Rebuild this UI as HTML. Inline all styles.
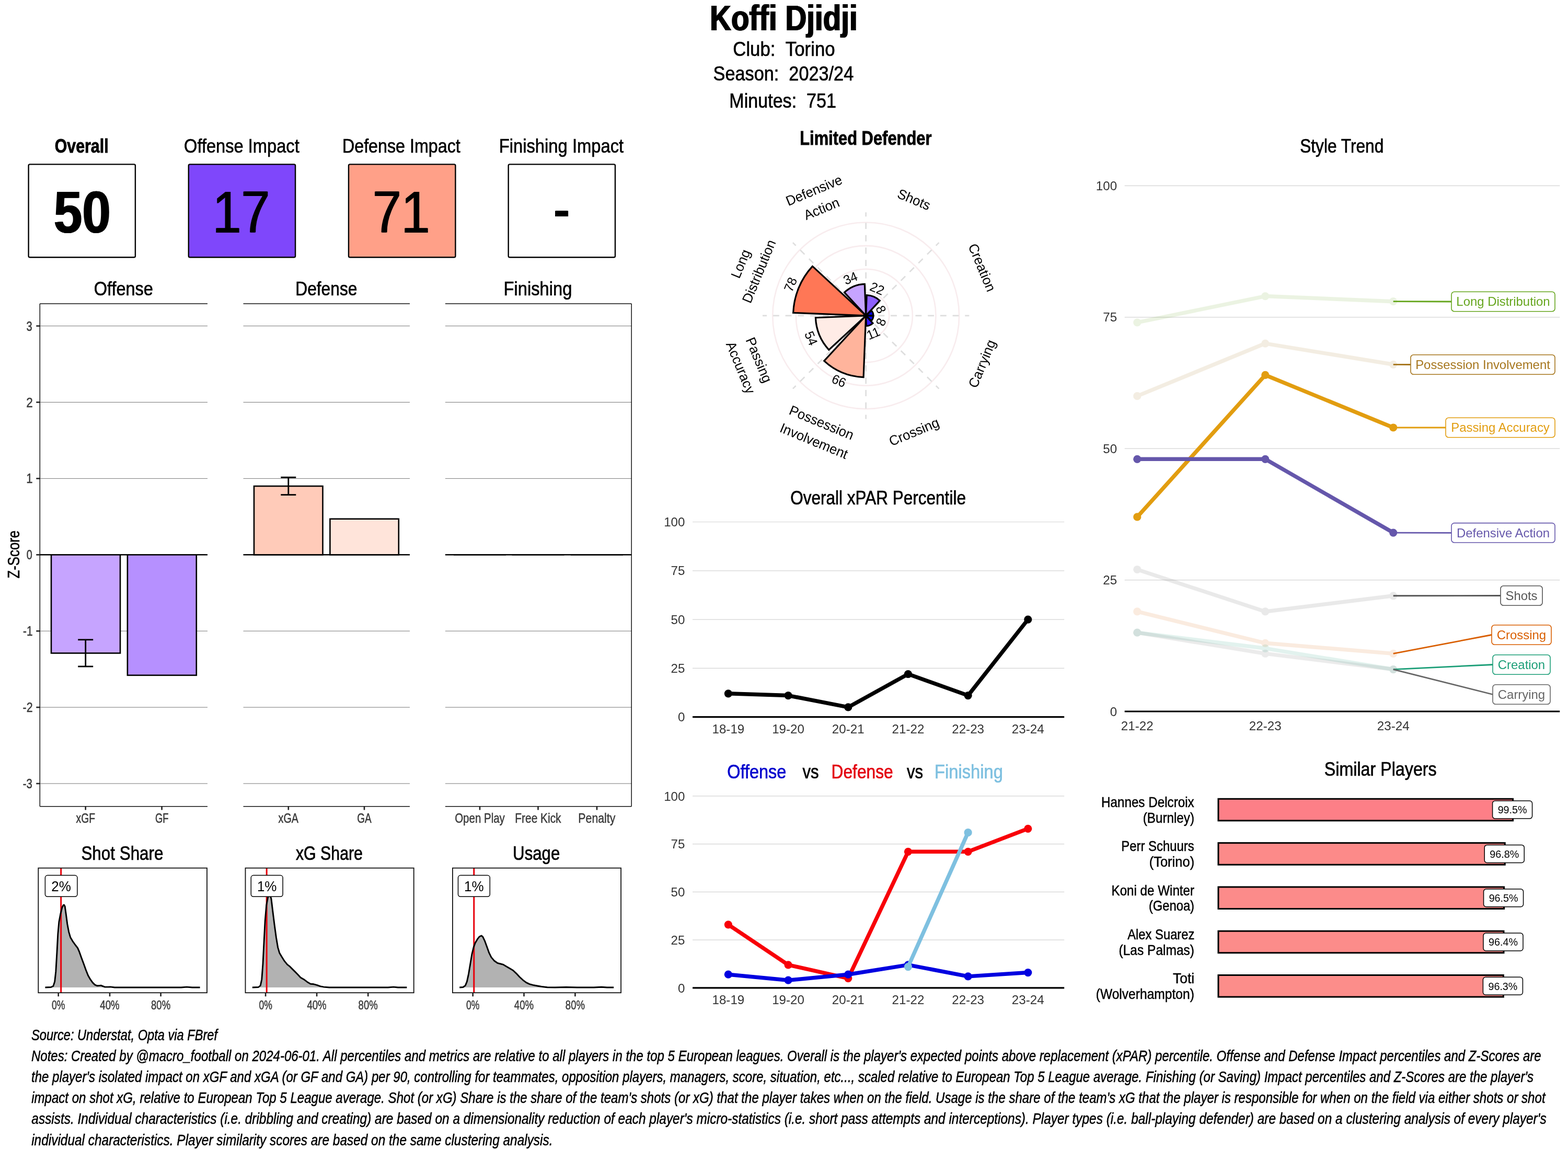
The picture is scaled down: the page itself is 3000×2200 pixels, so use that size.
<!DOCTYPE html>
<html><head><meta charset="utf-8"><title>Koffi Djidji</title>
<style>
html,body{margin:0;padding:0;background:#fff;}
body{width:3000px;height:2200px;overflow:hidden;}
svg{display:block;font-family:"Liberation Sans",sans-serif;}
</style></head><body>
<svg width="3000" height="2200" viewBox="0 0 3000 2200">
<rect x="0" y="0" width="3000" height="2200" fill="#fff"/>
<defs>
<filter id="e113" x="-20%" y="-20%" width="140%" height="140%"><feOffset dx="-1.13" result="a"/><feOffset in="SourceGraphic" dx="1.13" result="b"/><feMerge><feMergeNode in="a"/><feMergeNode in="SourceGraphic"/><feMergeNode in="b"/></feMerge></filter>
<filter id="e120" x="-20%" y="-20%" width="140%" height="140%"><feOffset dx="-1.20" result="a"/><feOffset in="SourceGraphic" dx="1.20" result="b"/><feMerge><feMergeNode in="a"/><feMergeNode in="SourceGraphic"/><feMergeNode in="b"/></feMerge></filter>
<filter id="e122" x="-20%" y="-20%" width="140%" height="140%"><feOffset dx="-1.22" result="a"/><feOffset in="SourceGraphic" dx="1.22" result="b"/><feMerge><feMergeNode in="a"/><feMergeNode in="SourceGraphic"/><feMergeNode in="b"/></feMerge></filter>
</defs>
<text transform="translate(1499.30 58.20) translate(-141.17 0) scale(0.8313 1.0180)" font-size="68.00" font-weight="bold" filter="url(#e120)" fill="#000" stroke="#000" stroke-width="0.00" >Koffi Djidji</text>
<text transform="translate(1499.80 106.90) translate(-97.54 0) scale(0.8924 1.0180)" font-size="39.00" fill="#000" stroke="#000" stroke-width="0.64" >Club: &#160;Torino</text>
<text transform="translate(1499.20 154.30) translate(-134.64 0) scale(0.8790 1.0180)" font-size="39.00" fill="#000" stroke="#000" stroke-width="0.66" >Season: &#160;2023/24</text>
<text transform="translate(1498.20 205.80) translate(-102.93 0) scale(0.8746 1.0180)" font-size="39.00" fill="#000" stroke="#000" stroke-width="0.67" >Minutes: &#160;751</text>
<text transform="translate(156.00 291.60) translate(-51.35 0) scale(0.8265 1.0180)" font-size="36.75" font-weight="bold" fill="#000" stroke="#000" stroke-width="0.88" >Overall</text>
<rect x="54.60" y="314.40" width="204.30" height="177.80" fill="#FFFFFF" stroke="#000" stroke-width="2.40" rx="2.50" />
<text transform="translate(156.75 444.60) translate(-54.10 0) scale(0.8846 1.0120)" font-size="111.00" font-weight="bold" filter="url(#e113)" fill="#000" stroke="#000" stroke-width="0.00" >50</text>
<text transform="translate(462.70 291.60) translate(-110.66 0) scale(0.8882 1.0180)" font-size="36.75" fill="#000" stroke="#000" stroke-width="0.64" >Offense Impact</text>
<rect x="360.80" y="314.40" width="204.30" height="177.80" fill="#7F47FB" stroke="#000" stroke-width="2.40" rx="2.50" />
<text transform="translate(461.45 444.60) translate(-54.80 0) scale(0.8876 1.0120)" font-size="111.00" filter="url(#e113)" fill="#000" stroke="#000" stroke-width="0.00" >17</text>
<text transform="translate(768.40 291.60) translate(-113.47 0) scale(0.8778 1.0180)" font-size="36.75" fill="#000" stroke="#000" stroke-width="0.66" >Defense Impact</text>
<rect x="667.00" y="314.40" width="204.40" height="177.80" fill="#FFA088" stroke="#000" stroke-width="2.40" rx="2.50" />
<text transform="translate(767.70 444.60) translate(-54.80 0) scale(0.8876 1.0120)" font-size="111.00" filter="url(#e113)" fill="#000" stroke="#000" stroke-width="0.00" >71</text>
<text transform="translate(1074.60 291.60) translate(-119.90 0) scale(0.8916 1.0180)" font-size="36.75" fill="#000" stroke="#000" stroke-width="0.64" >Finishing Impact</text>
<rect x="972.70" y="314.40" width="204.30" height="177.80" fill="#FFFFFF" stroke="#000" stroke-width="2.40" rx="2.50" />
<text transform="translate(1074.85 432.20) translate(-15.24 0) scale(0.8196 0.8000)" font-size="111.00" font-weight="bold" filter="url(#e122)" fill="#000" stroke="#000" stroke-width="0.00" >-</text>
<line x1="76.30" y1="1499.00" x2="397.00" y2="1499.00" stroke="#777" stroke-width="1.00" />
<line x1="76.30" y1="1353.10" x2="397.00" y2="1353.10" stroke="#777" stroke-width="1.00" />
<line x1="76.30" y1="1207.20" x2="397.00" y2="1207.20" stroke="#777" stroke-width="1.00" />
<line x1="76.30" y1="915.40" x2="397.00" y2="915.40" stroke="#777" stroke-width="1.00" />
<line x1="76.30" y1="769.50" x2="397.00" y2="769.50" stroke="#777" stroke-width="1.00" />
<line x1="76.30" y1="623.60" x2="397.00" y2="623.60" stroke="#777" stroke-width="1.00" />
<line x1="465.50" y1="1499.00" x2="784.00" y2="1499.00" stroke="#777" stroke-width="1.00" />
<line x1="465.50" y1="1353.10" x2="784.00" y2="1353.10" stroke="#777" stroke-width="1.00" />
<line x1="465.50" y1="1207.20" x2="784.00" y2="1207.20" stroke="#777" stroke-width="1.00" />
<line x1="465.50" y1="915.40" x2="784.00" y2="915.40" stroke="#777" stroke-width="1.00" />
<line x1="465.50" y1="769.50" x2="784.00" y2="769.50" stroke="#777" stroke-width="1.00" />
<line x1="465.50" y1="623.60" x2="784.00" y2="623.60" stroke="#777" stroke-width="1.00" />
<line x1="851.90" y1="1499.00" x2="1208.20" y2="1499.00" stroke="#777" stroke-width="1.00" />
<line x1="851.90" y1="1353.10" x2="1208.20" y2="1353.10" stroke="#777" stroke-width="1.00" />
<line x1="851.90" y1="1207.20" x2="1208.20" y2="1207.20" stroke="#777" stroke-width="1.00" />
<line x1="851.90" y1="915.40" x2="1208.20" y2="915.40" stroke="#777" stroke-width="1.00" />
<line x1="851.90" y1="769.50" x2="1208.20" y2="769.50" stroke="#777" stroke-width="1.00" />
<line x1="851.90" y1="623.60" x2="1208.20" y2="623.60" stroke="#777" stroke-width="1.00" />
<line x1="76.30" y1="1061.30" x2="397.00" y2="1061.30" stroke="#000" stroke-width="2.60" />
<line x1="465.50" y1="1061.30" x2="784.00" y2="1061.30" stroke="#000" stroke-width="2.60" />
<line x1="851.90" y1="1061.30" x2="1208.20" y2="1061.30" stroke="#000" stroke-width="2.60" />
<rect x="98.00" y="1061.30" width="132.00" height="188.21" fill="#C6A4FF" stroke="#000" stroke-width="2.60" rx="0.00" />
<rect x="243.90" y="1061.30" width="131.90" height="230.52" fill="#B690FF" stroke="#000" stroke-width="2.60" rx="0.00" />
<rect x="486.00" y="929.99" width="131.50" height="131.31" fill="#FFCBB9" stroke="#000" stroke-width="2.60" rx="0.00" />
<rect x="631.40" y="992.73" width="131.40" height="68.57" fill="#FFE4DA" stroke="#000" stroke-width="2.60" rx="0.00" />
<line x1="868.00" y1="1061.30" x2="968.00" y2="1061.30" stroke="#000" stroke-width="2.60" />
<line x1="979.50" y1="1061.30" x2="1079.50" y2="1061.30" stroke="#000" stroke-width="2.60" />
<line x1="1092.00" y1="1061.30" x2="1192.00" y2="1061.30" stroke="#000" stroke-width="2.60" />
<line x1="163.70" y1="1223.80" x2="163.70" y2="1275.00" stroke="#000" stroke-width="2.80" />
<line x1="149.20" y1="1223.80" x2="178.20" y2="1223.80" stroke="#000" stroke-width="2.80" />
<line x1="149.20" y1="1275.00" x2="178.20" y2="1275.00" stroke="#000" stroke-width="2.80" />
<line x1="551.80" y1="913.20" x2="551.80" y2="946.60" stroke="#000" stroke-width="2.80" />
<line x1="537.30" y1="913.20" x2="566.30" y2="913.20" stroke="#000" stroke-width="2.80" />
<line x1="537.30" y1="946.60" x2="566.30" y2="946.60" stroke="#000" stroke-width="2.80" />
<line x1="76.30" y1="581.00" x2="397.00" y2="581.00" stroke="#111" stroke-width="1.50" />
<line x1="76.30" y1="1542.70" x2="397.00" y2="1542.70" stroke="#111" stroke-width="1.50" />
<line x1="465.50" y1="581.00" x2="784.00" y2="581.00" stroke="#111" stroke-width="1.50" />
<line x1="465.50" y1="1542.70" x2="784.00" y2="1542.70" stroke="#111" stroke-width="1.50" />
<line x1="851.90" y1="581.00" x2="1208.20" y2="581.00" stroke="#111" stroke-width="1.50" />
<line x1="851.90" y1="1542.70" x2="1208.20" y2="1542.70" stroke="#111" stroke-width="1.50" />
<line x1="76.30" y1="581.00" x2="76.30" y2="1542.70" stroke="#111" stroke-width="1.50" />
<line x1="1208.20" y1="581.00" x2="1208.20" y2="1542.70" stroke="#111" stroke-width="1.50" />
<line x1="69.30" y1="1499.00" x2="76.30" y2="1499.00" stroke="#222" stroke-width="2.60" />
<text transform="translate(62.50 1508.00) translate(-18.83 0) scale(0.8137 1.0330)" font-size="25.00" fill="#3A3A3A" stroke="#3A3A3A" stroke-width="0.51" >-3</text>
<line x1="69.30" y1="1353.10" x2="76.30" y2="1353.10" stroke="#222" stroke-width="2.60" />
<text transform="translate(62.50 1362.10) translate(-18.88 0) scale(0.8553 1.0330)" font-size="25.00" fill="#3A3A3A" stroke="#3A3A3A" stroke-width="0.47" >-2</text>
<line x1="69.30" y1="1207.20" x2="76.30" y2="1207.20" stroke="#222" stroke-width="2.60" />
<text transform="translate(62.50 1216.20) translate(-18.54 0) scale(0.8342 1.0330)" font-size="25.00" fill="#3A3A3A" stroke="#3A3A3A" stroke-width="0.49" >-1</text>
<line x1="69.30" y1="1061.30" x2="76.30" y2="1061.30" stroke="#222" stroke-width="2.60" />
<text transform="translate(62.50 1070.30) translate(-11.76 0) scale(0.7917 1.0330)" font-size="25.00" fill="#3A3A3A" stroke="#3A3A3A" stroke-width="0.53" >0</text>
<line x1="69.30" y1="915.40" x2="76.30" y2="915.40" stroke="#222" stroke-width="2.60" />
<text transform="translate(62.50 924.40) translate(-12.34 0) scale(0.8876 1.0330)" font-size="25.00" fill="#3A3A3A" stroke="#3A3A3A" stroke-width="0.44" >1</text>
<line x1="69.30" y1="769.50" x2="76.30" y2="769.50" stroke="#222" stroke-width="2.60" />
<text transform="translate(62.50 778.50) translate(-12.34 0) scale(0.9011 1.0330)" font-size="25.00" fill="#3A3A3A" stroke="#3A3A3A" stroke-width="0.43" >2</text>
<line x1="69.30" y1="623.60" x2="76.30" y2="623.60" stroke="#222" stroke-width="2.60" />
<text transform="translate(62.50 632.60) translate(-11.89 0) scale(0.8000 1.0330)" font-size="25.00" fill="#3A3A3A" stroke="#3A3A3A" stroke-width="0.52" >3</text>
<line x1="163.70" y1="1542.70" x2="163.70" y2="1549.50" stroke="#222" stroke-width="2.60" />
<text transform="translate(163.70 1573.60) translate(-18.09 0) scale(0.7880 1.0180)" font-size="24.50" fill="#3A3A3A" stroke="#3A3A3A" stroke-width="0.52" >xGF</text>
<line x1="309.60" y1="1542.70" x2="309.60" y2="1549.50" stroke="#222" stroke-width="2.60" />
<text transform="translate(309.60 1573.60) translate(-12.58 0) scale(0.7500 1.0180)" font-size="24.50" fill="#3A3A3A" stroke="#3A3A3A" stroke-width="0.57" >GF</text>
<line x1="551.80" y1="1542.70" x2="551.80" y2="1549.50" stroke="#222" stroke-width="2.60" />
<text transform="translate(551.80 1573.60) translate(-19.26 0) scale(0.8062 1.0180)" font-size="24.50" fill="#3A3A3A" stroke="#3A3A3A" stroke-width="0.50" >xGA</text>
<line x1="697.00" y1="1542.70" x2="697.00" y2="1549.50" stroke="#222" stroke-width="2.60" />
<text transform="translate(697.00 1573.60) translate(-13.78 0) scale(0.7778 1.0180)" font-size="24.50" fill="#3A3A3A" stroke="#3A3A3A" stroke-width="0.53" >GA</text>
<line x1="918.00" y1="1542.70" x2="918.00" y2="1549.50" stroke="#222" stroke-width="2.60" />
<text transform="translate(918.00 1573.60) translate(-47.82 0) scale(0.8368 1.0180)" font-size="24.50" fill="#3A3A3A" stroke="#3A3A3A" stroke-width="0.47" >Open Play</text>
<line x1="1029.50" y1="1542.70" x2="1029.50" y2="1549.50" stroke="#222" stroke-width="2.60" />
<text transform="translate(1029.50 1573.60) translate(-44.16 0) scale(0.8528 1.0180)" font-size="24.50" fill="#3A3A3A" stroke="#3A3A3A" stroke-width="0.46" >Free Kick</text>
<line x1="1142.00" y1="1542.70" x2="1142.00" y2="1549.50" stroke="#222" stroke-width="2.60" />
<text transform="translate(1142.00 1573.60) translate(-35.66 0) scale(0.8694 1.0180)" font-size="24.50" fill="#3A3A3A" stroke="#3A3A3A" stroke-width="0.44" >Penalty</text>
<text transform="translate(36.50 1061.00) rotate(-90.00) translate(-45.57 0) scale(0.8434 1.0180)" font-size="30.60" fill="#000" stroke="#000" stroke-width="0.58" >Z-Score</text>
<text transform="translate(236.00 565.00) translate(-56.22 0) scale(0.8837 1.0180)" font-size="36.75" fill="#000" stroke="#000" stroke-width="0.65" >Offense</text>
<text transform="translate(624.20 565.00) translate(-58.99 0) scale(0.8639 1.0180)" font-size="36.75" fill="#000" stroke="#000" stroke-width="0.67" >Defense</text>
<text transform="translate(1029.00 565.00) translate(-65.46 0) scale(0.8898 1.0180)" font-size="36.75" fill="#000" stroke="#000" stroke-width="0.64" >Finishing</text>
<text transform="translate(233.90 1644.80) translate(-78.47 0) scale(0.8544 1.0180)" font-size="36.75" fill="#000" stroke="#000" stroke-width="0.69" >Shot Share</text>
<path d="M86.4,1889.0 L97.7,1888.5 L101.9,1886.4 L104.7,1877.9 L106.8,1858.9 L108.9,1822.9 L110.8,1786.8 L112.9,1763.5 L115.7,1748.7 L118.9,1736.0 L121.0,1731.8 L122.5,1730.9 L124.2,1733.9 L126.3,1748.7 L128.8,1767.8 L131.6,1782.6 L134.7,1793.2 L139.0,1800.6 L144.3,1808.0 L148.5,1813.3 L151.7,1820.7 L155.9,1832.4 L160.2,1844.0 L164.4,1855.7 L168.6,1866.3 L172.9,1873.7 L177.1,1879.6 L181.4,1883.9 L185.6,1885.8 L189.8,1885.6 L193.0,1885.1 L196.2,1886.4 L200.4,1888.1 L206.8,1888.1 L211.0,1887.9 L219.5,1889.0 L346.6,1889.0 L357.2,1888.1 L367.8,1889.0 L382.6,1889.0 Z" fill="#B2B2B2" stroke="none"/>
<line x1="116.70" y1="1660.60" x2="116.70" y2="1899.20" stroke="#E8000B" stroke-width="3.00" />
<path d="M86.4,1889.0 L97.7,1888.5 L101.9,1886.4 L104.7,1877.9 L106.8,1858.9 L108.9,1822.9 L110.8,1786.8 L112.9,1763.5 L115.7,1748.7 L118.9,1736.0 L121.0,1731.8 L122.5,1730.9 L124.2,1733.9 L126.3,1748.7 L128.8,1767.8 L131.6,1782.6 L134.7,1793.2 L139.0,1800.6 L144.3,1808.0 L148.5,1813.3 L151.7,1820.7 L155.9,1832.4 L160.2,1844.0 L164.4,1855.7 L168.6,1866.3 L172.9,1873.7 L177.1,1879.6 L181.4,1883.9 L185.6,1885.8 L189.8,1885.6 L193.0,1885.1 L196.2,1886.4 L200.4,1888.1 L206.8,1888.1 L211.0,1887.9 L219.5,1889.0 L346.6,1889.0 L357.2,1888.1 L367.8,1889.0 L382.6,1889.0" fill="none" stroke="#000" stroke-width="2.9" stroke-linejoin="round"/>
<rect x="73.30" y="1660.60" width="322.70" height="238.60" fill="none" stroke="#111" stroke-width="1.80" rx="0.00" />
<rect x="86.40" y="1674.60" width="61.50" height="40.60" fill="#fff" stroke="#000" stroke-width="1.50" rx="4.50" />
<text transform="translate(117.15 1704.80) scale(1.0000 1.0300)" font-size="26.00" text-anchor="middle" fill="#000" >2%</text>
<line x1="111.70" y1="1899.20" x2="111.70" y2="1906.20" stroke="#222" stroke-width="2.60" />
<text transform="translate(111.70 1931.00) translate(-12.65 0) scale(0.7482 1.0330)" font-size="23.50" fill="#3A3A3A" stroke="#3A3A3A" stroke-width="0.54" >0%</text>
<line x1="210.00" y1="1899.20" x2="210.00" y2="1906.20" stroke="#222" stroke-width="2.60" />
<text transform="translate(210.00 1931.00) translate(-18.70 0) scale(0.7918 1.0330)" font-size="23.50" fill="#3A3A3A" stroke="#3A3A3A" stroke-width="0.50" >40%</text>
<line x1="307.60" y1="1899.20" x2="307.60" y2="1906.20" stroke="#222" stroke-width="2.60" />
<text transform="translate(307.60 1931.00) translate(-18.58 0) scale(0.7891 1.0330)" font-size="23.50" fill="#3A3A3A" stroke="#3A3A3A" stroke-width="0.50" >80%</text>
<text transform="translate(629.70 1644.80) translate(-63.77 0) scale(0.8249 1.0180)" font-size="36.75" fill="#000" stroke="#000" stroke-width="0.73" >xG Share</text>
<path d="M482.8,1889.0 L494.5,1888.5 L498.3,1885.4 L500.8,1873.7 L503.0,1844.0 L505.1,1801.7 L507.2,1761.4 L509.7,1731.8 L512.5,1716.9 L514.6,1712.7 L516.7,1712.7 L518.9,1719.0 L522.0,1744.5 L525.2,1769.9 L528.4,1793.2 L531.6,1812.3 L534.7,1822.9 L539.0,1830.3 L544.3,1838.7 L549.6,1845.1 L553.8,1848.3 L559.1,1853.6 L564.4,1858.9 L569.7,1864.2 L575.0,1869.9 L581.4,1873.7 L587.7,1878.4 L594.1,1882.2 L600.4,1882.8 L606.8,1884.7 L613.1,1886.8 L619.5,1888.1 L630.1,1889.0 L742.4,1889.0 L753.0,1888.1 L761.4,1889.0 L778.4,1889.0 Z" fill="#B2B2B2" stroke="none"/>
<line x1="510.20" y1="1660.60" x2="510.20" y2="1899.20" stroke="#E8000B" stroke-width="3.00" />
<path d="M482.8,1889.0 L494.5,1888.5 L498.3,1885.4 L500.8,1873.7 L503.0,1844.0 L505.1,1801.7 L507.2,1761.4 L509.7,1731.8 L512.5,1716.9 L514.6,1712.7 L516.7,1712.7 L518.9,1719.0 L522.0,1744.5 L525.2,1769.9 L528.4,1793.2 L531.6,1812.3 L534.7,1822.9 L539.0,1830.3 L544.3,1838.7 L549.6,1845.1 L553.8,1848.3 L559.1,1853.6 L564.4,1858.9 L569.7,1864.2 L575.0,1869.9 L581.4,1873.7 L587.7,1878.4 L594.1,1882.2 L600.4,1882.8 L606.8,1884.7 L613.1,1886.8 L619.5,1888.1 L630.1,1889.0 L742.4,1889.0 L753.0,1888.1 L761.4,1889.0 L778.4,1889.0" fill="none" stroke="#000" stroke-width="2.9" stroke-linejoin="round"/>
<rect x="469.50" y="1660.60" width="322.20" height="238.60" fill="none" stroke="#111" stroke-width="1.80" rx="0.00" />
<rect x="480.30" y="1674.60" width="60.80" height="40.60" fill="#fff" stroke="#000" stroke-width="1.50" rx="4.50" />
<text transform="translate(510.70 1704.80) scale(1.0000 1.0300)" font-size="26.00" text-anchor="middle" fill="#000" >1%</text>
<line x1="508.10" y1="1899.20" x2="508.10" y2="1906.20" stroke="#222" stroke-width="2.60" />
<text transform="translate(508.10 1931.00) translate(-12.65 0) scale(0.7482 1.0330)" font-size="23.50" fill="#3A3A3A" stroke="#3A3A3A" stroke-width="0.54" >0%</text>
<line x1="606.10" y1="1899.20" x2="606.10" y2="1906.20" stroke="#222" stroke-width="2.60" />
<text transform="translate(606.10 1931.00) translate(-18.70 0) scale(0.7918 1.0330)" font-size="23.50" fill="#3A3A3A" stroke="#3A3A3A" stroke-width="0.50" >40%</text>
<line x1="704.20" y1="1899.20" x2="704.20" y2="1906.20" stroke="#222" stroke-width="2.60" />
<text transform="translate(704.20 1931.00) translate(-18.58 0) scale(0.7891 1.0330)" font-size="23.50" fill="#3A3A3A" stroke="#3A3A3A" stroke-width="0.50" >80%</text>
<text transform="translate(1026.20 1644.80) translate(-45.13 0) scale(0.8502 1.0180)" font-size="36.75" fill="#000" stroke="#000" stroke-width="0.69" >Usage</text>
<path d="M879.2,1889.0 L886.0,1888.5 L890.3,1885.4 L893.4,1877.9 L896.6,1863.1 L899.8,1844.0 L903.0,1825.0 L906.1,1812.3 L909.3,1803.8 L913.6,1796.4 L917.4,1791.7 L921.0,1790.0 L923.7,1792.1 L927.3,1799.6 L931.6,1811.2 L935.8,1822.9 L940.0,1831.3 L945.3,1837.7 L951.7,1842.3 L958.1,1844.0 L962.3,1845.1 L968.6,1848.7 L975.0,1852.5 L981.4,1856.3 L987.7,1862.1 L994.1,1869.0 L1000.4,1874.8 L1006.8,1879.6 L1013.1,1882.6 L1019.5,1884.3 L1028.0,1886.0 L1036.4,1887.5 L1047.0,1888.7 L1061.9,1889.0 L1083.1,1888.5 L1104.2,1889.0 L1136.0,1889.0 L1150.8,1888.3 L1161.4,1889.0 L1174.2,1889.0 Z" fill="#B2B2B2" stroke="none"/>
<line x1="906.80" y1="1660.60" x2="906.80" y2="1899.20" stroke="#E8000B" stroke-width="3.00" />
<path d="M879.2,1889.0 L886.0,1888.5 L890.3,1885.4 L893.4,1877.9 L896.6,1863.1 L899.8,1844.0 L903.0,1825.0 L906.1,1812.3 L909.3,1803.8 L913.6,1796.4 L917.4,1791.7 L921.0,1790.0 L923.7,1792.1 L927.3,1799.6 L931.6,1811.2 L935.8,1822.9 L940.0,1831.3 L945.3,1837.7 L951.7,1842.3 L958.1,1844.0 L962.3,1845.1 L968.6,1848.7 L975.0,1852.5 L981.4,1856.3 L987.7,1862.1 L994.1,1869.0 L1000.4,1874.8 L1006.8,1879.6 L1013.1,1882.6 L1019.5,1884.3 L1028.0,1886.0 L1036.4,1887.5 L1047.0,1888.7 L1061.9,1889.0 L1083.1,1888.5 L1104.2,1889.0 L1136.0,1889.0 L1150.8,1888.3 L1161.4,1889.0 L1174.2,1889.0" fill="none" stroke="#000" stroke-width="2.9" stroke-linejoin="round"/>
<rect x="865.90" y="1660.60" width="322.20" height="238.60" fill="none" stroke="#111" stroke-width="1.80" rx="0.00" />
<rect x="876.50" y="1674.60" width="60.80" height="40.60" fill="#fff" stroke="#000" stroke-width="1.50" rx="4.50" />
<text transform="translate(906.90 1704.80) scale(1.0000 1.0300)" font-size="26.00" text-anchor="middle" fill="#000" >1%</text>
<line x1="904.70" y1="1899.20" x2="904.70" y2="1906.20" stroke="#222" stroke-width="2.60" />
<text transform="translate(904.70 1931.00) translate(-12.65 0) scale(0.7482 1.0330)" font-size="23.50" fill="#3A3A3A" stroke="#3A3A3A" stroke-width="0.54" >0%</text>
<line x1="1002.50" y1="1899.20" x2="1002.50" y2="1906.20" stroke="#222" stroke-width="2.60" />
<text transform="translate(1002.50 1931.00) translate(-18.70 0) scale(0.7918 1.0330)" font-size="23.50" fill="#3A3A3A" stroke="#3A3A3A" stroke-width="0.50" >40%</text>
<line x1="1100.40" y1="1899.20" x2="1100.40" y2="1906.20" stroke="#222" stroke-width="2.60" />
<text transform="translate(1100.40 1931.00) translate(-18.58 0) scale(0.7891 1.0330)" font-size="23.50" fill="#3A3A3A" stroke="#3A3A3A" stroke-width="0.50" >80%</text>
<text transform="translate(1656.50 276.60) translate(-126.32 0) scale(0.8412 1.0180)" font-size="36.75" font-weight="bold" fill="#000" stroke="#000" stroke-width="0.85" >Limited Defender</text>
<circle cx="1656.70" cy="603.90" r="44.60" fill="none" stroke="#F8ECEE" stroke-width="2.60" />
<circle cx="1656.70" cy="603.90" r="89.20" fill="none" stroke="#F8ECEE" stroke-width="2.60" />
<circle cx="1656.70" cy="603.90" r="133.80" fill="none" stroke="#F8ECEE" stroke-width="2.60" />
<circle cx="1656.70" cy="603.90" r="178.40" fill="none" stroke="#F8ECEE" stroke-width="2.60" />
<line x1="1656.70" y1="603.90" x2="1656.70" y2="406.23" stroke="#DEDEDE" stroke-width="2.70" stroke-dasharray="11.85 11.85"/>
<line x1="1656.70" y1="603.90" x2="1796.47" y2="464.13" stroke="#DEDEDE" stroke-width="2.70" stroke-dasharray="11.85 11.85"/>
<line x1="1656.70" y1="603.90" x2="1854.37" y2="603.90" stroke="#DEDEDE" stroke-width="2.70" stroke-dasharray="11.85 11.85"/>
<line x1="1656.70" y1="603.90" x2="1796.47" y2="743.67" stroke="#DEDEDE" stroke-width="2.70" stroke-dasharray="11.85 11.85"/>
<line x1="1656.70" y1="603.90" x2="1656.70" y2="801.57" stroke="#DEDEDE" stroke-width="2.70" stroke-dasharray="11.85 11.85"/>
<line x1="1656.70" y1="603.90" x2="1516.93" y2="743.67" stroke="#DEDEDE" stroke-width="2.70" stroke-dasharray="11.85 11.85"/>
<line x1="1656.70" y1="603.90" x2="1459.03" y2="603.90" stroke="#DEDEDE" stroke-width="2.70" stroke-dasharray="11.85 11.85"/>
<line x1="1656.70" y1="603.90" x2="1516.93" y2="464.13" stroke="#DEDEDE" stroke-width="2.70" stroke-dasharray="11.85 11.85"/>
<path d="M1656.70,603.90 L1658.24,564.68 A39.25,39.25 0 0 1 1683.34,575.08 Z" fill="#8E61FF" stroke="#000" stroke-width="3.2" stroke-linejoin="miter"/>
<path d="M1656.70,603.90 L1667.18,594.21 A14.27,14.27 0 0 1 1670.96,603.34 Z" fill="#0000FF" stroke="#000" stroke-width="3.2" stroke-linejoin="miter"/>
<path d="M1656.70,603.90 L1670.96,604.46 A14.27,14.27 0 0 1 1667.18,613.59 Z" fill="#0000FF" stroke="#000" stroke-width="3.2" stroke-linejoin="miter"/>
<path d="M1656.70,603.90 L1670.02,618.31 A19.62,19.62 0 0 1 1657.47,623.51 Z" fill="#371AFF" stroke="#000" stroke-width="3.2" stroke-linejoin="miter"/>
<path d="M1656.70,603.90 L1652.08,721.55 A117.74,117.74 0 0 1 1576.78,690.36 Z" fill="#FFB49C" stroke="#000" stroke-width="3.2" stroke-linejoin="miter"/>
<path d="M1656.70,603.90 L1585.96,669.29 A96.34,96.34 0 0 1 1560.44,607.68 Z" fill="#FFECE6" stroke="#000" stroke-width="3.2" stroke-linejoin="miter"/>
<path d="M1656.70,603.90 L1517.66,598.44 A139.15,139.15 0 0 1 1554.52,509.44 Z" fill="#FF7756" stroke="#000" stroke-width="3.2" stroke-linejoin="miter"/>
<path d="M1656.70,603.90 L1615.53,559.36 A60.66,60.66 0 0 1 1654.32,543.29 Z" fill="#C6A4FF" stroke="#000" stroke-width="3.2" stroke-linejoin="miter"/>
<g transform="translate(1678.23 551.93) rotate(22.50)">
<text transform="translate(0.00 8.70) scale(1.0000 1.0300)" font-size="24.20" text-anchor="middle" fill="#000" >22</text>
</g>
<g transform="translate(1748.74 381.71) rotate(22.50)">
<text transform="translate(0.00 9.00) scale(1.0000 1.0300)" font-size="25.60" text-anchor="middle" fill="#000" >Shots</text>
</g>
<g transform="translate(1685.59 591.93) rotate(67.50)">
<text transform="translate(0.00 8.70) scale(1.0000 1.0300)" font-size="24.20" text-anchor="middle" fill="#000" >8</text>
</g>
<g transform="translate(1878.89 511.86) rotate(67.50)">
<text transform="translate(0.00 9.00) scale(1.0000 1.0300)" font-size="25.60" text-anchor="middle" fill="#000" >Creation</text>
</g>
<g transform="translate(1685.59 615.87) rotate(-67.50)">
<text transform="translate(0.00 8.70) scale(1.0000 1.0300)" font-size="24.20" text-anchor="middle" fill="#000" >8</text>
</g>
<g transform="translate(1878.89 695.94) rotate(-67.50)">
<text transform="translate(0.00 9.00) scale(1.0000 1.0300)" font-size="25.60" text-anchor="middle" fill="#000" >Carrying</text>
</g>
<g transform="translate(1670.72 637.74) rotate(-22.50)">
<text transform="translate(0.00 8.70) scale(1.0000 1.0300)" font-size="24.20" text-anchor="middle" fill="#000" >11</text>
</g>
<g transform="translate(1748.74 826.09) rotate(-22.50)">
<text transform="translate(0.00 9.00) scale(1.0000 1.0300)" font-size="25.60" text-anchor="middle" fill="#000" >Crossing</text>
</g>
<g transform="translate(1605.14 728.39) rotate(22.50)">
<text transform="translate(0.00 8.70) scale(1.0000 1.0300)" font-size="24.20" text-anchor="middle" fill="#000" >66</text>
</g>
<g transform="translate(1564.66 826.09) rotate(22.50)">
<text transform="translate(0.00 -10.00) scale(1.0000 1.0300)" font-size="25.60" text-anchor="middle" fill="#000" >Possession</text>
</g>
<g transform="translate(1564.66 826.09) rotate(22.50)">
<text transform="translate(0.00 28.00) scale(1.0000 1.0300)" font-size="25.60" text-anchor="middle" fill="#000" >Involvement</text>
</g>
<g transform="translate(1551.99 647.27) rotate(67.50)">
<text transform="translate(0.00 8.70) scale(1.0000 1.0300)" font-size="24.20" text-anchor="middle" fill="#000" >54</text>
</g>
<g transform="translate(1434.51 695.94) rotate(67.50)">
<text transform="translate(0.00 -10.00) scale(1.0000 1.0300)" font-size="25.60" text-anchor="middle" fill="#000" >Passing</text>
</g>
<g transform="translate(1434.51 695.94) rotate(67.50)">
<text transform="translate(0.00 28.00) scale(1.0000 1.0300)" font-size="25.60" text-anchor="middle" fill="#000" >Accuracy</text>
</g>
<g transform="translate(1512.43 544.14) rotate(-67.50)">
<text transform="translate(0.00 8.70) scale(1.0000 1.0300)" font-size="24.20" text-anchor="middle" fill="#000" >78</text>
</g>
<g transform="translate(1434.51 511.86) rotate(-67.50)">
<text transform="translate(0.00 -10.00) scale(1.0000 1.0300)" font-size="25.60" text-anchor="middle" fill="#000" >Long</text>
</g>
<g transform="translate(1434.51 511.86) rotate(-67.50)">
<text transform="translate(0.00 28.00) scale(1.0000 1.0300)" font-size="25.60" text-anchor="middle" fill="#000" >Distribution</text>
</g>
<g transform="translate(1626.98 532.16) rotate(-22.50)">
<text transform="translate(0.00 8.70) scale(1.0000 1.0300)" font-size="24.20" text-anchor="middle" fill="#000" >34</text>
</g>
<g transform="translate(1564.66 381.71) rotate(-22.50)">
<text transform="translate(0.00 -10.00) scale(1.0000 1.0300)" font-size="25.60" text-anchor="middle" fill="#000" >Defensive</text>
</g>
<g transform="translate(1564.66 381.71) rotate(-22.50)">
<text transform="translate(0.00 28.00) scale(1.0000 1.0300)" font-size="25.60" text-anchor="middle" fill="#000" >Action</text>
</g>
<text transform="translate(1679.70 964.90) translate(-167.48 0) scale(0.8580 1.0180)" font-size="36.75" fill="#000" stroke="#000" stroke-width="0.68" >Overall xPAR Percentile</text>
<line x1="1325.10" y1="1278.32" x2="2036.20" y2="1278.32" stroke="#D4D4D4" stroke-width="1.20" />
<line x1="1325.10" y1="1185.05" x2="2036.20" y2="1185.05" stroke="#D4D4D4" stroke-width="1.20" />
<line x1="1325.10" y1="1091.78" x2="2036.20" y2="1091.78" stroke="#D4D4D4" stroke-width="1.20" />
<line x1="1325.10" y1="998.50" x2="2036.20" y2="998.50" stroke="#D4D4D4" stroke-width="1.20" />
<polyline points="1393.40,1326.83 1508.08,1330.56 1622.76,1352.94 1737.44,1289.52 1852.12,1330.56 1966.80,1185.05" fill="none" stroke="#000" stroke-width="7.50" stroke-linejoin="round"/>
<circle cx="1393.40" cy="1326.83" r="7.60" fill="#000" stroke="none" stroke-width="1.00" />
<circle cx="1508.08" cy="1330.56" r="7.60" fill="#000" stroke="none" stroke-width="1.00" />
<circle cx="1622.76" cy="1352.94" r="7.60" fill="#000" stroke="none" stroke-width="1.00" />
<circle cx="1737.44" cy="1289.52" r="7.60" fill="#000" stroke="none" stroke-width="1.00" />
<circle cx="1852.12" cy="1330.56" r="7.60" fill="#000" stroke="none" stroke-width="1.00" />
<circle cx="1966.80" cy="1185.05" r="7.60" fill="#000" stroke="none" stroke-width="1.00" />
<line x1="1325.10" y1="1371.60" x2="2036.20" y2="1371.60" stroke="#000" stroke-width="3.20" />
<text transform="translate(1310.50 1380.20)" font-size="24.20" text-anchor="end" fill="#333" >0</text>
<text transform="translate(1310.50 1286.92)" font-size="24.20" text-anchor="end" fill="#333" >25</text>
<text transform="translate(1310.50 1193.65)" font-size="24.20" text-anchor="end" fill="#333" >50</text>
<text transform="translate(1310.50 1100.38)" font-size="24.20" text-anchor="end" fill="#333" >75</text>
<text transform="translate(1310.50 1007.10)" font-size="24.20" text-anchor="end" fill="#333" >100</text>
<text transform="translate(1393.40 1402.60)" font-size="24.20" text-anchor="middle" fill="#333" >18-19</text>
<text transform="translate(1508.08 1402.60)" font-size="24.20" text-anchor="middle" fill="#333" >19-20</text>
<text transform="translate(1622.76 1402.60)" font-size="24.20" text-anchor="middle" fill="#333" >20-21</text>
<text transform="translate(1737.44 1402.60)" font-size="24.20" text-anchor="middle" fill="#333" >21-22</text>
<text transform="translate(1852.12 1402.60)" font-size="24.20" text-anchor="middle" fill="#333" >22-23</text>
<text transform="translate(1966.80 1402.60)" font-size="24.20" text-anchor="middle" fill="#333" >23-24</text>
<text transform="translate(1447.50 1489.20) translate(-56.22 0) scale(0.8837 1.0180)" font-size="36.75" fill="#0000CD" stroke="#0000CD" stroke-width="0.65" >Offense</text>
<text transform="translate(1551.00 1489.20) translate(-15.48 0) scale(0.8490 1.0180)" font-size="36.75" fill="#000" stroke="#000" stroke-width="0.69" >vs</text>
<text transform="translate(1649.50 1489.20) translate(-58.99 0) scale(0.8639 1.0180)" font-size="36.75" fill="#E3000F" stroke="#E3000F" stroke-width="0.67" >Defense</text>
<text transform="translate(1750.50 1489.20) translate(-15.48 0) scale(0.8490 1.0180)" font-size="36.75" fill="#000" stroke="#000" stroke-width="0.69" >vs</text>
<text transform="translate(1853.50 1489.20) translate(-65.46 0) scale(0.8898 1.0180)" font-size="36.75" fill="#7EC0E0" stroke="#7EC0E0" stroke-width="0.64" >Finishing</text>
<line x1="1325.10" y1="1798.15" x2="2036.20" y2="1798.15" stroke="#D4D4D4" stroke-width="1.20" />
<line x1="1325.10" y1="1706.40" x2="2036.20" y2="1706.40" stroke="#D4D4D4" stroke-width="1.20" />
<line x1="1325.10" y1="1614.65" x2="2036.20" y2="1614.65" stroke="#D4D4D4" stroke-width="1.20" />
<line x1="1325.10" y1="1522.90" x2="2036.20" y2="1522.90" stroke="#D4D4D4" stroke-width="1.20" />
<polyline points="1393.40,1768.79 1508.08,1845.86 1622.76,1871.55 1737.44,1629.33 1852.12,1629.33 1966.80,1585.29" fill="none" stroke="#F80008" stroke-width="7.50" stroke-linejoin="round"/>
<circle cx="1393.40" cy="1768.79" r="7.60" fill="#F80008" stroke="none" stroke-width="1.00" />
<circle cx="1508.08" cy="1845.86" r="7.60" fill="#F80008" stroke="none" stroke-width="1.00" />
<circle cx="1622.76" cy="1871.55" r="7.60" fill="#F80008" stroke="none" stroke-width="1.00" />
<circle cx="1737.44" cy="1629.33" r="7.60" fill="#F80008" stroke="none" stroke-width="1.00" />
<circle cx="1852.12" cy="1629.33" r="7.60" fill="#F80008" stroke="none" stroke-width="1.00" />
<circle cx="1966.80" cy="1585.29" r="7.60" fill="#F80008" stroke="none" stroke-width="1.00" />
<polyline points="1393.40,1864.21 1508.08,1875.22 1622.76,1864.21 1737.44,1845.86 1852.12,1867.88 1966.80,1860.54" fill="none" stroke="#0000E0" stroke-width="7.50" stroke-linejoin="round"/>
<circle cx="1393.40" cy="1864.21" r="7.60" fill="#0000E0" stroke="none" stroke-width="1.00" />
<circle cx="1508.08" cy="1875.22" r="7.60" fill="#0000E0" stroke="none" stroke-width="1.00" />
<circle cx="1622.76" cy="1864.21" r="7.60" fill="#0000E0" stroke="none" stroke-width="1.00" />
<circle cx="1737.44" cy="1845.86" r="7.60" fill="#0000E0" stroke="none" stroke-width="1.00" />
<circle cx="1852.12" cy="1867.88" r="7.60" fill="#0000E0" stroke="none" stroke-width="1.00" />
<circle cx="1966.80" cy="1860.54" r="7.60" fill="#0000E0" stroke="none" stroke-width="1.00" />
<polyline points="1737.44,1849.53 1852.12,1592.63" fill="none" stroke="#7EC0E0" stroke-width="7.50" stroke-linejoin="round"/>
<circle cx="1737.44" cy="1849.53" r="7.60" fill="#7EC0E0" stroke="none" stroke-width="1.00" />
<circle cx="1852.12" cy="1592.63" r="7.60" fill="#7EC0E0" stroke="none" stroke-width="1.00" />
<line x1="1325.10" y1="1889.90" x2="2036.20" y2="1889.90" stroke="#000" stroke-width="3.20" />
<text transform="translate(1310.50 1898.50)" font-size="24.20" text-anchor="end" fill="#333" >0</text>
<text transform="translate(1310.50 1806.75)" font-size="24.20" text-anchor="end" fill="#333" >25</text>
<text transform="translate(1310.50 1715.00)" font-size="24.20" text-anchor="end" fill="#333" >50</text>
<text transform="translate(1310.50 1623.25)" font-size="24.20" text-anchor="end" fill="#333" >75</text>
<text transform="translate(1310.50 1531.50)" font-size="24.20" text-anchor="end" fill="#333" >100</text>
<text transform="translate(1393.40 1920.90)" font-size="24.20" text-anchor="middle" fill="#333" >18-19</text>
<text transform="translate(1508.08 1920.90)" font-size="24.20" text-anchor="middle" fill="#333" >19-20</text>
<text transform="translate(1622.76 1920.90)" font-size="24.20" text-anchor="middle" fill="#333" >20-21</text>
<text transform="translate(1737.44 1920.90)" font-size="24.20" text-anchor="middle" fill="#333" >21-22</text>
<text transform="translate(1852.12 1920.90)" font-size="24.20" text-anchor="middle" fill="#333" >22-23</text>
<text transform="translate(1966.80 1920.90)" font-size="24.20" text-anchor="middle" fill="#333" >23-24</text>
<text transform="translate(2567.40 291.90) translate(-80.21 0) scale(0.8615 1.0180)" font-size="36.75" fill="#000" stroke="#000" stroke-width="0.68" >Style Trend</text>
<line x1="2151.70" y1="1109.60" x2="2984.30" y2="1109.60" stroke="#D4D4D4" stroke-width="1.20" />
<line x1="2151.70" y1="858.20" x2="2984.30" y2="858.20" stroke="#D4D4D4" stroke-width="1.20" />
<line x1="2151.70" y1="606.80" x2="2984.30" y2="606.80" stroke="#D4D4D4" stroke-width="1.20" />
<line x1="2151.70" y1="355.40" x2="2984.30" y2="355.40" stroke="#D4D4D4" stroke-width="1.20" />
<g opacity="0.12">
<polyline points="2175.80,616.86 2420.80,566.58 2665.70,576.63" fill="none" stroke="#66A61E" stroke-width="7.50" stroke-linejoin="round"/>
<circle cx="2175.80" cy="616.86" r="7.60" fill="#66A61E" stroke="none" stroke-width="1.00" />
<circle cx="2420.80" cy="566.58" r="7.60" fill="#66A61E" stroke="none" stroke-width="1.00" />
<circle cx="2665.70" cy="576.63" r="7.60" fill="#66A61E" stroke="none" stroke-width="1.00" />
</g>
<g opacity="0.12">
<polyline points="2175.80,757.64 2420.80,657.08 2665.70,697.30" fill="none" stroke="#A6761D" stroke-width="7.50" stroke-linejoin="round"/>
<circle cx="2175.80" cy="757.64" r="7.60" fill="#A6761D" stroke="none" stroke-width="1.00" />
<circle cx="2420.80" cy="657.08" r="7.60" fill="#A6761D" stroke="none" stroke-width="1.00" />
<circle cx="2665.70" cy="697.30" r="7.60" fill="#A6761D" stroke="none" stroke-width="1.00" />
</g>
<g opacity="1.00">
<polyline points="2175.80,988.93 2420.80,717.42 2665.70,817.98" fill="none" stroke="#E29D10" stroke-width="7.50" stroke-linejoin="round"/>
<circle cx="2175.80" cy="988.93" r="7.60" fill="#E29D10" stroke="none" stroke-width="1.00" />
<circle cx="2420.80" cy="717.42" r="7.60" fill="#E29D10" stroke="none" stroke-width="1.00" />
<circle cx="2665.70" cy="817.98" r="7.60" fill="#E29D10" stroke="none" stroke-width="1.00" />
</g>
<g opacity="1.00">
<polyline points="2175.80,878.31 2420.80,878.31 2665.70,1019.10" fill="none" stroke="#6557AB" stroke-width="7.50" stroke-linejoin="round"/>
<circle cx="2175.80" cy="878.31" r="7.60" fill="#6557AB" stroke="none" stroke-width="1.00" />
<circle cx="2420.80" cy="878.31" r="7.60" fill="#6557AB" stroke="none" stroke-width="1.00" />
<circle cx="2665.70" cy="1019.10" r="7.60" fill="#6557AB" stroke="none" stroke-width="1.00" />
</g>
<g opacity="0.12">
<polyline points="2175.80,1089.49 2420.80,1169.94 2665.70,1139.77" fill="none" stroke="#555555" stroke-width="7.50" stroke-linejoin="round"/>
<circle cx="2175.80" cy="1089.49" r="7.60" fill="#555555" stroke="none" stroke-width="1.00" />
<circle cx="2420.80" cy="1169.94" r="7.60" fill="#555555" stroke="none" stroke-width="1.00" />
<circle cx="2665.70" cy="1139.77" r="7.60" fill="#555555" stroke="none" stroke-width="1.00" />
</g>
<g opacity="0.12">
<polyline points="2175.80,1169.94 2420.80,1230.27 2665.70,1250.38" fill="none" stroke="#D95F02" stroke-width="7.50" stroke-linejoin="round"/>
<circle cx="2175.80" cy="1169.94" r="7.60" fill="#D95F02" stroke="none" stroke-width="1.00" />
<circle cx="2420.80" cy="1230.27" r="7.60" fill="#D95F02" stroke="none" stroke-width="1.00" />
<circle cx="2665.70" cy="1250.38" r="7.60" fill="#D95F02" stroke="none" stroke-width="1.00" />
</g>
<g opacity="0.12">
<polyline points="2175.80,1210.16 2420.80,1240.33 2665.70,1280.55" fill="none" stroke="#1B9E77" stroke-width="7.50" stroke-linejoin="round"/>
<circle cx="2175.80" cy="1210.16" r="7.60" fill="#1B9E77" stroke="none" stroke-width="1.00" />
<circle cx="2420.80" cy="1240.33" r="7.60" fill="#1B9E77" stroke="none" stroke-width="1.00" />
<circle cx="2665.70" cy="1280.55" r="7.60" fill="#1B9E77" stroke="none" stroke-width="1.00" />
</g>
<g opacity="0.12">
<polyline points="2175.80,1210.16 2420.80,1250.38 2665.70,1280.55" fill="none" stroke="#666666" stroke-width="7.50" stroke-linejoin="round"/>
<circle cx="2175.80" cy="1210.16" r="7.60" fill="#666666" stroke="none" stroke-width="1.00" />
<circle cx="2420.80" cy="1250.38" r="7.60" fill="#666666" stroke="none" stroke-width="1.00" />
<circle cx="2665.70" cy="1280.55" r="7.60" fill="#666666" stroke="none" stroke-width="1.00" />
</g>
<line x1="2665.70" y1="576.63" x2="2777.00" y2="577.00" stroke="#66A61E" stroke-width="2.80" />
<rect x="2777.00" y="558.30" width="198.00" height="37.40" fill="#fff" stroke="#66A61E" stroke-width="1.60" rx="5.50" />
<text transform="translate(2876.00 585.40)" font-size="23.90" text-anchor="middle" fill="#66A61E" >Long Distribution</text>
<line x1="2665.70" y1="697.30" x2="2699.00" y2="697.50" stroke="#A6761D" stroke-width="2.80" />
<rect x="2699.00" y="678.80" width="276.00" height="37.40" fill="#fff" stroke="#A6761D" stroke-width="1.60" rx="5.50" />
<text transform="translate(2837.00 705.90)" font-size="23.90" text-anchor="middle" fill="#A6761D" >Possession Involvement</text>
<line x1="2665.70" y1="817.98" x2="2766.00" y2="818.00" stroke="#E29D10" stroke-width="2.80" />
<rect x="2766.00" y="799.30" width="209.00" height="37.40" fill="#fff" stroke="#E29D10" stroke-width="1.60" rx="5.50" />
<text transform="translate(2870.50 826.40)" font-size="23.90" text-anchor="middle" fill="#E29D10" >Passing Accuracy</text>
<line x1="2665.70" y1="1019.10" x2="2777.00" y2="1019.30" stroke="#6557AB" stroke-width="2.80" />
<rect x="2777.00" y="1000.60" width="198.00" height="37.40" fill="#fff" stroke="#6557AB" stroke-width="1.60" rx="5.50" />
<text transform="translate(2876.00 1027.70)" font-size="23.90" text-anchor="middle" fill="#6557AB" >Defensive Action</text>
<line x1="2665.70" y1="1139.77" x2="2871.00" y2="1139.50" stroke="#555555" stroke-width="2.80" />
<rect x="2871.00" y="1120.80" width="80.00" height="37.40" fill="#fff" stroke="#555555" stroke-width="1.60" rx="5.50" />
<text transform="translate(2911.00 1147.90)" font-size="23.90" text-anchor="middle" fill="#555555" >Shots</text>
<line x1="2665.70" y1="1250.38" x2="2854.00" y2="1214.50" stroke="#D95F02" stroke-width="2.80" />
<rect x="2854.00" y="1195.80" width="114.00" height="37.40" fill="#fff" stroke="#D95F02" stroke-width="1.60" rx="5.50" />
<text transform="translate(2911.00 1222.90)" font-size="23.90" text-anchor="middle" fill="#D95F02" >Crossing</text>
<line x1="2665.70" y1="1280.55" x2="2856.00" y2="1271.50" stroke="#1B9E77" stroke-width="2.80" />
<rect x="2856.00" y="1252.80" width="110.00" height="37.40" fill="#fff" stroke="#1B9E77" stroke-width="1.60" rx="5.50" />
<text transform="translate(2911.00 1279.90)" font-size="23.90" text-anchor="middle" fill="#1B9E77" >Creation</text>
<line x1="2665.70" y1="1280.55" x2="2856.00" y2="1328.50" stroke="#666666" stroke-width="2.80" />
<rect x="2856.00" y="1309.80" width="110.00" height="37.40" fill="#fff" stroke="#666666" stroke-width="1.60" rx="5.50" />
<text transform="translate(2911.00 1336.90)" font-size="23.90" text-anchor="middle" fill="#666666" >Carrying</text>
<line x1="2151.70" y1="1361.00" x2="2984.30" y2="1361.00" stroke="#000" stroke-width="3.20" />
<text transform="translate(2137.10 1369.60)" font-size="24.20" text-anchor="end" fill="#333" >0</text>
<text transform="translate(2137.10 1118.20)" font-size="24.20" text-anchor="end" fill="#333" >25</text>
<text transform="translate(2137.10 866.80)" font-size="24.20" text-anchor="end" fill="#333" >50</text>
<text transform="translate(2137.10 615.40)" font-size="24.20" text-anchor="end" fill="#333" >75</text>
<text transform="translate(2137.10 364.00)" font-size="24.20" text-anchor="end" fill="#333" >100</text>
<text transform="translate(2175.80 1396.50)" font-size="24.20" text-anchor="middle" fill="#333" >21-22</text>
<text transform="translate(2420.80 1396.50)" font-size="24.20" text-anchor="middle" fill="#333" >22-23</text>
<text transform="translate(2665.70 1396.50)" font-size="24.20" text-anchor="middle" fill="#333" >23-24</text>
<text transform="translate(2641.60 1484.00) translate(-107.81 0) scale(0.8771 1.0180)" font-size="36.75" fill="#000" stroke="#000" stroke-width="0.66" >Similar Players</text>
<rect x="2331.00" y="1528.30" width="563.56" height="41.60" fill="#FD7F87" stroke="#000" stroke-width="3.00" rx="0.00" />
<rect x="2855.56" y="1532.10" width="76.00" height="34.00" fill="#fff" stroke="#000" stroke-width="1.50" rx="5.00" />
<text transform="translate(2893.56 1556.30)" font-size="19.70" text-anchor="middle" fill="#000" >99.5%</text>
<text transform="translate(2285.30 1544.10) translate(-178.29 0) scale(0.8716 1.0180)" font-size="27.80" fill="#000" stroke="#000" stroke-width="0.50" >Hannes Delcroix</text>
<text transform="translate(2285.30 1573.70) translate(-98.60 0) scale(0.8717 1.0180)" font-size="27.80" fill="#000" stroke="#000" stroke-width="0.50" >(Burnley)</text>
<rect x="2331.00" y="1612.60" width="548.24" height="41.60" fill="#FC8A89" stroke="#000" stroke-width="3.00" rx="0.00" />
<rect x="2840.24" y="1616.40" width="76.00" height="34.00" fill="#fff" stroke="#000" stroke-width="1.50" rx="5.00" />
<text transform="translate(2878.24 1640.60)" font-size="19.70" text-anchor="middle" fill="#000" >96.8%</text>
<text transform="translate(2285.30 1628.40) translate(-140.12 0) scale(0.8610 1.0180)" font-size="27.80" fill="#000" stroke="#000" stroke-width="0.51" >Perr Schuurs</text>
<text transform="translate(2285.30 1658.00) translate(-86.67 0) scale(0.9188 1.0180)" font-size="27.80" fill="#000" stroke="#000" stroke-width="0.46" >(Torino)</text>
<rect x="2331.00" y="1696.90" width="546.54" height="41.60" fill="#FC8B8A" stroke="#000" stroke-width="3.00" rx="0.00" />
<rect x="2838.54" y="1700.70" width="76.00" height="34.00" fill="#fff" stroke="#000" stroke-width="1.50" rx="5.00" />
<text transform="translate(2876.54 1724.90)" font-size="19.70" text-anchor="middle" fill="#000" >96.5%</text>
<text transform="translate(2285.30 1712.70) translate(-158.78 0) scale(0.8700 1.0180)" font-size="27.80" fill="#000" stroke="#000" stroke-width="0.50" >Koni de Winter</text>
<text transform="translate(2285.30 1742.30) translate(-87.40 0) scale(0.8547 1.0180)" font-size="27.80" fill="#000" stroke="#000" stroke-width="0.52" >(Genoa)</text>
<rect x="2331.00" y="1781.20" width="545.97" height="41.60" fill="#FC8C8A" stroke="#000" stroke-width="3.00" rx="0.00" />
<rect x="2837.97" y="1785.00" width="76.00" height="34.00" fill="#fff" stroke="#000" stroke-width="1.50" rx="5.00" />
<text transform="translate(2875.97 1809.20)" font-size="19.70" text-anchor="middle" fill="#000" >96.4%</text>
<text transform="translate(2285.30 1797.00) translate(-128.09 0) scale(0.8558 1.0180)" font-size="27.80" fill="#000" stroke="#000" stroke-width="0.52" >Alex Suarez</text>
<text transform="translate(2285.30 1826.60) translate(-144.73 0) scale(0.8821 1.0180)" font-size="27.80" fill="#000" stroke="#000" stroke-width="0.49" >(Las Palmas)</text>
<rect x="2331.00" y="1865.50" width="545.41" height="41.60" fill="#FC8D8A" stroke="#000" stroke-width="3.00" rx="0.00" />
<rect x="2837.41" y="1869.30" width="76.00" height="34.00" fill="#fff" stroke="#000" stroke-width="1.50" rx="5.00" />
<text transform="translate(2875.41 1893.50)" font-size="19.70" text-anchor="middle" fill="#000" >96.3%</text>
<text transform="translate(2285.30 1881.30) translate(-41.38 0) scale(0.9558 1.0180)" font-size="27.80" fill="#000" stroke="#000" stroke-width="0.43" >Toti</text>
<text transform="translate(2285.30 1910.90) translate(-188.57 0) scale(0.8851 1.0180)" font-size="27.80" fill="#000" stroke="#000" stroke-width="0.49" >(Wolverhampton)</text>
<text transform="translate(60.00 1990.00) translate(-0.01 0) scale(0.8406 1.0180)" font-size="28.12" font-style="italic" fill="#000" stroke="#000" stroke-width="0.52" >Source: Understat, Opta via FBref</text>
<text transform="translate(60.00 2030.10) translate(-0.02 0) scale(0.8549 1.0180)" font-size="28.12" font-style="italic" fill="#000" stroke="#000" stroke-width="0.51" >Notes: Created by @macro_football on 2024-06-01. All percentiles and metrics are relative to all players in the top 5 European leagues. Overall is the player's expected points above replacement (xPAR) percentile. Offense and Defense Impact percentiles and Z-Scores are</text>
<text transform="translate(60.00 2070.20) translate(0.04 0) scale(0.8536 1.0180)" font-size="28.12" font-style="italic" fill="#000" stroke="#000" stroke-width="0.51" >the player's isolated impact on xGF and xGA (or GF and GA) per 90, controlling for teammates, opposition players, managers, score, situation, etc..., scaled relative to European Top 5 League average. Finishing (or Saving) Impact percentiles and Z-Scores are the player's</text>
<text transform="translate(60.00 2110.30) translate(0.20 0) scale(0.8555 1.0180)" font-size="28.12" font-style="italic" fill="#000" stroke="#000" stroke-width="0.51" >impact on shot xG, relative to European Top 5 League average. Shot (or xG) Share is the share of the team's shots (or xG) that the player takes when on the field. Usage is the share of the team's xG that the player is responsible for when on the field via either shots or shot</text>
<text transform="translate(60.00 2150.40) translate(0.36 0) scale(0.8687 1.0180)" font-size="28.12" font-style="italic" fill="#000" stroke="#000" stroke-width="0.49" >assists. Individual characteristics (i.e. dribbling and creating) are based on a dimensionality reduction of each player's micro-statistics (i.e. short pass attempts and interceptions). Player types (i.e. ball-playing defender) are based on a clustering analysis of every player's</text>
<text transform="translate(60.00 2190.50) translate(0.20 0) scale(0.8687 1.0180)" font-size="28.12" font-style="italic" fill="#000" stroke="#000" stroke-width="0.49" >individual characteristics. Player similarity scores are based on the same clustering analysis.</text>
</svg>
</body></html>
